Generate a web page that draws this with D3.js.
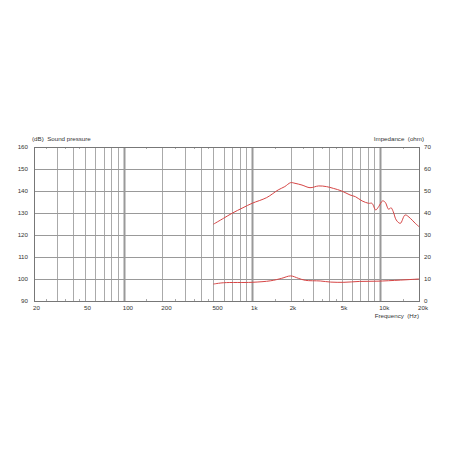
<!DOCTYPE html>
<html>
<head>
<meta charset="utf-8">
<script src="https://cdn.jsdelivr.net/npm/d3@7"></script>
<style>
  body { margin: 0; background: #fff; }
  svg { display: block; font-family: "Liberation Sans", Arial, sans-serif; }
</style>
</head>
<body>
<div class="chart"></div>
<script>
// sound pressure curve (left axis, dB)
const splFreq = [500, 600, 700, 850, 1000, 1300, 1600, 1800, 2000, 2160, 2450, 2830, 3300, 3800, 4300, 5000, 5800, 6400, 7200, 8100, 8600, 9200, 9700, 10400, 10900, 11600, 12100, 12600, 13300, 14300, 15600, 17100, 18700, 20000];
const splDb = [124.9, 127.6, 129.9, 132.4, 134.4, 137.0, 140.5, 142.0, 143.8, 143.5, 142.7, 141.5, 142.3, 142.0, 141.2, 140.0, 138.2, 137.4, 135.5, 134.4, 134.4, 131.4, 132.9, 135.5, 134.9, 131.7, 132.4, 130.6, 126.8, 125.3, 129.1, 127.6, 125.3, 123.8];

// impedance curve (right axis, ohm)
const impFreq = [500, 600, 1000, 1400, 1700, 2000, 2300, 2600, 3400, 4100, 5200, 6900, 9400, 14300, 20000];
const impOhm = [7.7, 8.3, 8.5, 9.2, 10.3, 11.4, 10.3, 9.4, 9.1, 8.6, 8.5, 8.9, 9.0, 9.5, 10.0];

const freqLabels = [20, 50, 100, 200, 500, 1000, 2000, 5000, 10000, 20000];
const freqLabelText = ['20', '50', '100', '200', '500', '1k', '2k', '5k', '10k', '20k'];
const dbTicks = [90, 100, 110, 120, 130, 140, 150, 160];
const ohmTicks = [0, 10, 20, 30, 40, 50, 60, 70];

const w = 452;
const h = 452;
const plot = { left: 34, right: 419, top: 147, bottom: 301 };
const fs = 6.2;

const x = d3.scaleLog().domain([20, 20000]).range([plot.left, plot.right]);
const yDb = d3.scaleLinear().domain([90, 160]).range([plot.bottom, plot.top]);
const yOhm = d3.scaleLinear().domain([0, 70]).range([plot.bottom, plot.top]);

const svg = d3.select('.chart')
  .append('svg')
  .attr('width', w)
  .attr('height', h);

// vertical grid: 1..9 per decade
const gridFreqs = [];
[10, 100, 1000, 10000].forEach(dec => {
  for (let m = 1; m <= 9; m++) {
    const f = dec * m;
    if (f > 20 && f < 20000) gridFreqs.push(f);
  }
});
const isDecade = d => [100, 1000, 10000].includes(d);
svg.append('g')
  .selectAll('line')
  .data(gridFreqs)
  .enter()
  .append('line')
  .attr('x1', d => Math.round(x(d)) + 0.5)
  .attr('x2', d => Math.round(x(d)) + 0.5)
  .attr('y1', plot.top)
  .attr('y2', plot.bottom)
  .attr('stroke', d => isDecade(d) ? '#999' : '#aaa')
  .attr('stroke-width', d => isDecade(d) ? 2 : 1);

// minor ticks top and bottom
const minorFreqs = [];
[10, 100, 1000, 10000].forEach(dec => {
  [1.5, 2.5, 3.5, 4.5].forEach(m => {
    const f = dec * m;
    if (f > 20 && f < 20000) minorFreqs.push(f);
  });
});
const minor = svg.append('g');
minor.selectAll('.tb')
  .data(minorFreqs)
  .enter()
  .append('line')
  .attr('x1', d => Math.round(x(d)) + 0.5)
  .attr('x2', d => Math.round(x(d)) + 0.5)
  .attr('y1', plot.top)
  .attr('y2', plot.top + 2)
  .attr('stroke', '#aaa');
minor.selectAll('.bb')
  .data(minorFreqs)
  .enter()
  .append('line')
  .attr('x1', d => Math.round(x(d)) + 0.5)
  .attr('x2', d => Math.round(x(d)) + 0.5)
  .attr('y1', plot.bottom - 2)
  .attr('y2', plot.bottom)
  .attr('stroke', '#aaa');

// horizontal grid
svg.append('g')
  .selectAll('line')
  .data(dbTicks)
  .enter()
  .append('line')
  .attr('x1', plot.left)
  .attr('x2', plot.right)
  .attr('y1', d => Math.round(yDb(d)) + 0.5)
  .attr('y2', d => Math.round(yDb(d)) + 0.5)
  .attr('stroke', '#999');

// frame
svg.append('rect')
  .attr('x', plot.left + 0.5)
  .attr('y', Math.round(plot.top) + 0.5)
  .attr('width', plot.right - plot.left)
  .attr('height', plot.bottom - plot.top)
  .attr('fill', 'none')
  .attr('stroke', '#777');

// curves
const splLine = d3.line()
  .x(d => x(d[0]))
  .y(d => yDb(d[1]))
  .curve(d3.curveCatmullRom);
const impLine = d3.line()
  .x(d => x(d[0]))
  .y(d => yOhm(d[1]))
  .curve(d3.curveCatmullRom);

svg.append('path')
  .datum(d3.zip(splFreq, splDb))
  .attr('d', splLine)
  .attr('fill', 'none')
  .attr('stroke', '#d64545')
  .attr('stroke-width', 1);

svg.append('path')
  .datum(d3.zip(impFreq, impOhm))
  .attr('d', impLine)
  .attr('fill', 'none')
  .attr('stroke', '#d64545')
  .attr('stroke-width', 1);

// left axis labels
svg.append('g')
  .selectAll('text')
  .data(dbTicks)
  .enter()
  .append('text')
  .attr('x', 28)
  .attr('y', d => yDb(d))
  .attr('dy', '0.35em')
  .attr('text-anchor', 'end')
  .attr('font-size', fs)
  .attr('fill', '#333')
  .text(d => d);

// right axis labels
svg.append('g')
  .selectAll('text')
  .data(ohmTicks)
  .enter()
  .append('text')
  .attr('x', 424)
  .attr('y', d => yOhm(d))
  .attr('dy', '0.35em')
  .attr('font-size', fs)
  .attr('fill', '#333')
  .text(d => d);

// bottom labels
svg.append('g')
  .selectAll('text')
  .data(freqLabels)
  .enter()
  .append('text')
  .attr('x', d => x(d) - 1)
  .attr('y', 310)
  .attr('font-size', fs)
  .attr('fill', '#333')
  .text((d, i) => freqLabelText[i]);

svg.append('text')
  .attr('x', 32)
  .attr('y', 141)
  .attr('font-size', fs)
  .attr('fill', '#333')
  .attr('xml:space', 'preserve')
  .text('(dB)  Sound pressure');

svg.append('text')
  .attr('x', 424)
  .attr('y', 141)
  .attr('text-anchor', 'end')
  .attr('font-size', fs)
  .attr('fill', '#333')
  .attr('xml:space', 'preserve')
  .text('Impedance  (ohm)');

svg.append('text')
  .attr('x', 419)
  .attr('y', 318)
  .attr('text-anchor', 'end')
  .attr('font-size', fs)
  .attr('fill', '#333')
  .attr('xml:space', 'preserve')
  .text('Frequency  (Hz)');
</script>
</body>
</html>
